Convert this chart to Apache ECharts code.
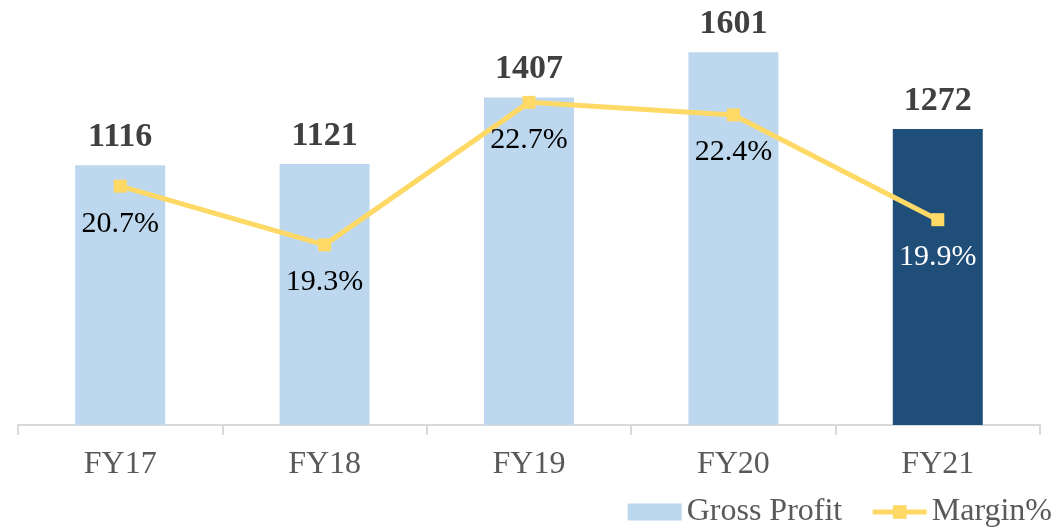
<!DOCTYPE html>
<html>
<head>
<meta charset="utf-8">
<script src="https://cdn.jsdelivr.net/npm/echarts@6/dist/echarts.min.js"></script>
<style>
  html, body { margin: 0; padding: 0; background: #fff; }
  #main { width: 1061px; height: 530px; }
</style>
</head>
<body>
<div id="main"></div>
<script>
var categories = ['FY17', 'FY18', 'FY19', 'FY20', 'FY21'];
var grossProfit = [1116, 1121, 1407, 1601, 1272];
var margin = [20.7, 19.3, 22.7, 22.4, 19.9];

var font = '"Liberation Serif", serif';
var myChart = echarts.init(document.getElementById('main'));

// last bar is highlighted in dark blue
var barData = grossProfit.map(function (v, i) {
  return {
    value: v,
    itemStyle: { color: i === grossProfit.length - 1 ? '#1F4E79' : '#BDD7EE' }
  };
});
var lineData = margin.map(function (v, i) {
  return {
    value: v,
    label: { color: i === margin.length - 1 ? '#FFFFFF' : '#000000' }
  };
});

var option = {
  animation: false,
  grid: { left: 18, right: 21, top: 6, bottom: 105 },
  legend: {
    right: 4,
    bottom: -3,
    itemWidth: 54,
    itemHeight: 17,
    itemGap: 28,
    textStyle: { fontFamily: font, fontSize: 32, color: '#595959' },
    data: [
      { name: 'Gross Profit', icon: 'rect' },
      { name: 'Margin%', lineStyle: { width: 5, color: '#FFD966' } }
    ]
  },
  xAxis: {
    type: 'category',
    data: categories,
    axisLine: { lineStyle: { color: '#D9D9D9', width: 2 } },
    axisTick: { show: true, length: 10, lineStyle: { color: '#D9D9D9', width: 2 } },
    axisLabel: { fontFamily: font, fontSize: 32, color: '#595959', margin: 24 }
  },
  yAxis: [
    { type: 'value', min: 0, max: 1800, show: false, splitLine: { show: false } },
    { type: 'value', min: 15, max: 25, show: false, splitLine: { show: false } }
  ],
  series: [
    {
      name: 'Gross Profit',
      type: 'bar',
      barWidth: 90,
      itemStyle: { color: '#BDD7EE' },
      data: barData,
      label: {
        show: true,
        position: 'top',
        distance: 11,
        fontFamily: font,
        fontWeight: 'bold',
        fontSize: 34,
        color: '#404040'
      }
    },
    {
      name: 'Margin%',
      type: 'line',
      yAxisIndex: 1,
      data: lineData,
      symbol: 'rect',
      symbolSize: 13,
      itemStyle: { color: '#FFD966' },
      lineStyle: { color: '#FFD966', width: 5 },
      label: {
        show: true,
        position: 'bottom',
        distance: 16,
        fontFamily: font,
        fontSize: 30,
        formatter: function (p) { return p.value.toFixed(1) + '%'; }
      }
    }
  ]
};

myChart.setOption(option);
</script>
</body>
</html>
